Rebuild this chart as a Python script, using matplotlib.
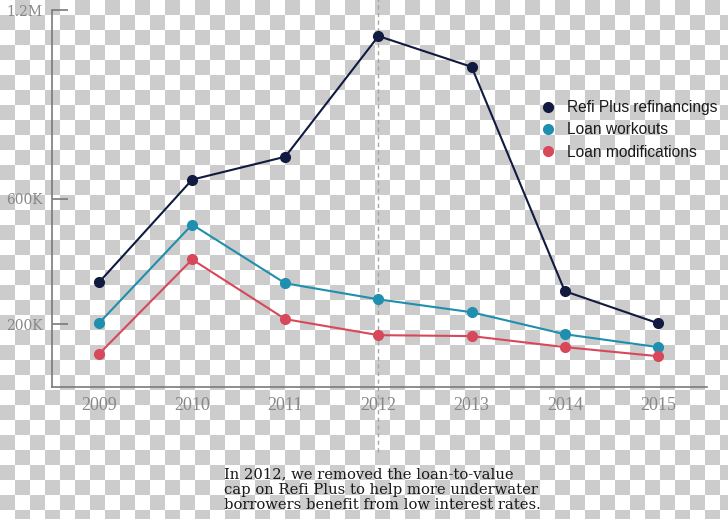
import numpy as np
import matplotlib
matplotlib.use("Agg")
import matplotlib.pyplot as plt
from matplotlib.lines import Line2D

# data
years = [2009, 2010, 2011, 2012, 2013, 2014, 2015]
refi_plus = [333000, 660000, 733000, 1117000, 1019000, 305000, 203000]
workouts = [203000, 517000, 330000, 279000, 238000, 168000, 127000]
modifications = [105000, 406000, 216000, 165000, 162000, 127000, 98000]

ytick_vals = [200000, 600000, 1200000]
ytick_labels = ['200K', '600K', '1.2M']
series_names = ['Refi Plus refinancings', 'Loan workouts', 'Loan modifications']
colors = ['#111a40', '#1f8fb0', '#d8485b']
note = ("In 2012, we removed the loan-to-value\n"
        "cap on Refi Plus to help more underwater\n"
        "borrowers benefit from low interest rates.")

W, H = 728, 519
fig = plt.figure(figsize=(W / 100, H / 100), dpi=100)
fig.patch.set_alpha(0)

# transparent-background checkerboard
bg = fig.add_axes([0, 0, 1, 1], zorder=-10)
sq = 15
nr, nc = H // sq + 1, W // sq + 1
board = (np.add.outer(np.arange(nr), np.arange(nc)) % 2).astype(float)
bg.imshow(board, cmap='gray_r', vmin=0, vmax=5, extent=(0, nc * sq, nr * sq, 0),
          interpolation='nearest')
bg.set_xlim(0, W)
bg.set_ylim(H, 0)
bg.axis('off')

ax = fig.add_axes([52 / W, 1 - 387 / H, 655 / W, 377 / H])
ax.patch.set_alpha(0)

for vals, c in zip([refi_plus, workouts, modifications], colors):
    ax.plot(years, vals, color=c, lw=1.5, marker='o', ms=7, zorder=3)

ax.axvline(2012, ymin=-0.172, ymax=1.03, clip_on=False, color='#a5a5a5',
           lw=1, dashes=(3, 2.5), zorder=1)

ax.set_xlim(2008.496, 2015.526)
ax.set_ylim(0, 1200000)
ax.set_xticks(years)
ax.set_xticklabels([str(y) for y in years], family='Liberation Serif',
                   fontsize=13, color='#888888')
ax.set_yticks(ytick_vals)
ax.set_yticklabels(ytick_labels, family='DejaVu Serif', fontsize=10,
                   color='#888888')
ax.tick_params(axis='x', length=0, pad=7)
ax.tick_params(axis='y', direction='in', length=11.5, width=1.2,
               color='#7a7a7a', pad=7)
for s in ['top', 'right']:
    ax.spines[s].set_visible(False)
for s in ['left', 'bottom']:
    ax.spines[s].set_color('#7a7a7a')
    ax.spines[s].set_linewidth(1.2)

handles = [Line2D([], [], ls='none', marker='o', ms=7, color=c) for c in colors]
fig.legend(handles, series_names, loc='upper left',
           bbox_to_anchor=(542 / W, 1 - 100 / H), frameon=False,
           prop={'family': 'Liberation Sans', 'size': 11.2},
           labelcolor='#1a1a1a', handlelength=0.8, handletextpad=0.8,
           labelspacing=0.47, borderpad=0, borderaxespad=0)

fig.text(224 / W, 1 - 467 / H, note, ha='left', va='top',
         family='DejaVu Serif', fontsize=10.6, color='#1a1a1a',
         linespacing=1.14)

fig.savefig('out.png', dpi=100)
